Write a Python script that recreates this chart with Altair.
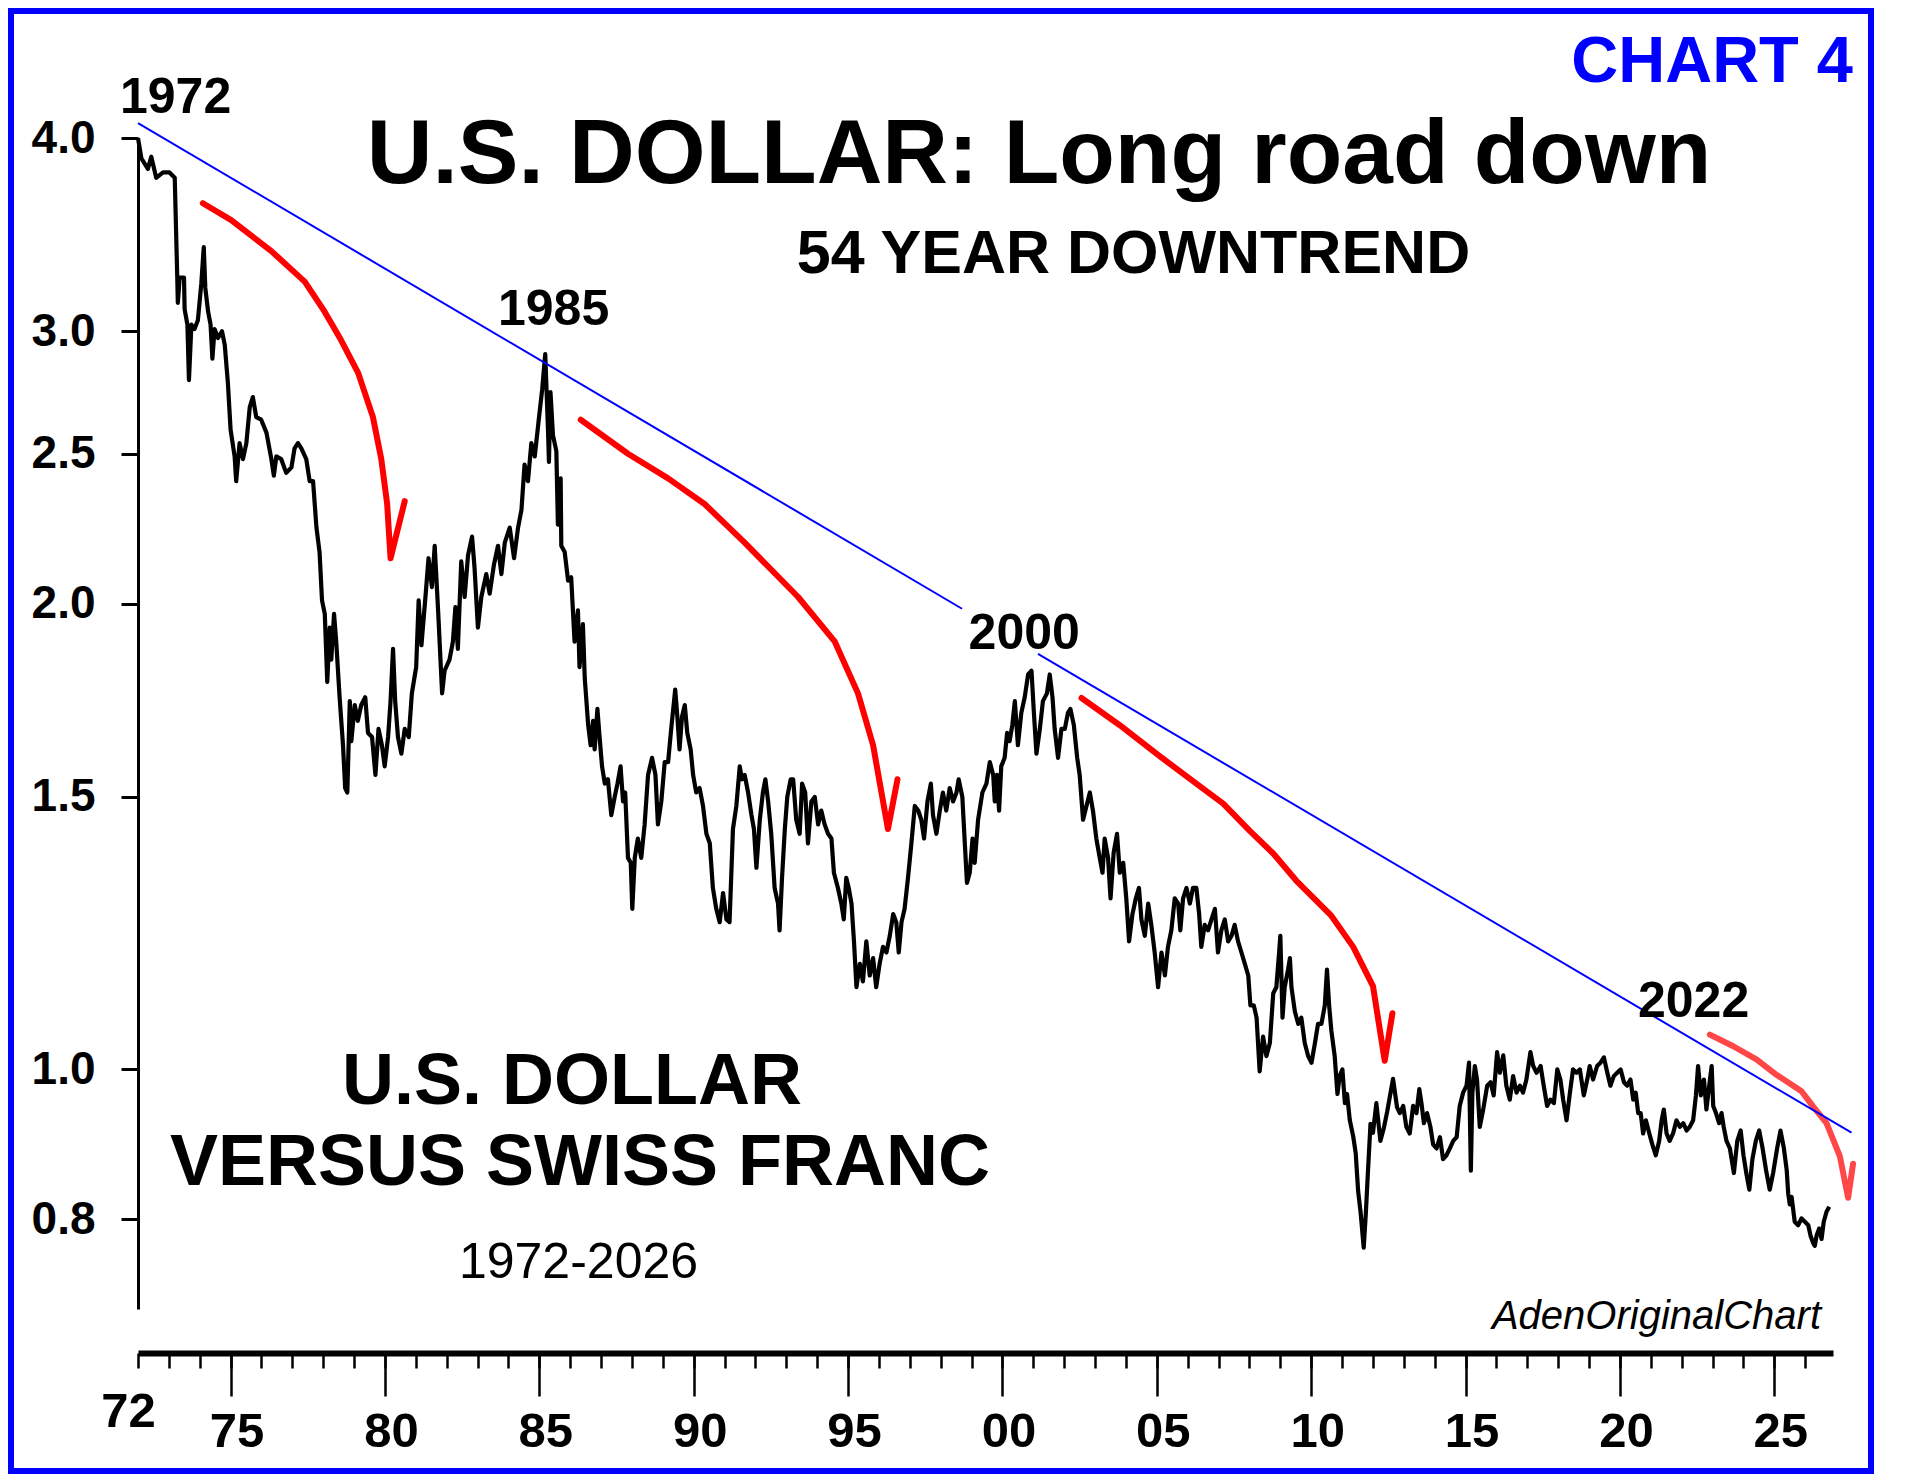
import altair as alt
import pandas as pd

# ---------------- data ----------------
usd_years = [
    1972.00, 1972.11, 1972.32, 1972.43, 1972.59, 1972.81, 1973.02, 1973.19, 1973.27, 1973.29,
    1973.35, 1973.49, 1973.51, 1973.60, 1973.65, 1973.73, 1973.83, 1973.94, 1974.05, 1974.13,
    1974.18, 1974.27, 1974.35, 1974.41, 1974.48, 1974.59, 1974.72, 1974.81, 1974.91, 1975.00,
    1975.13, 1975.18, 1975.29, 1975.40, 1975.51, 1975.62, 1975.72, 1975.83, 1975.99, 1976.16,
    1976.32, 1976.40, 1976.48, 1976.64, 1976.80, 1976.97, 1977.07, 1977.18, 1977.29, 1977.45,
    1977.56, 1977.67, 1977.78, 1977.88, 1977.96, 1978.05, 1978.13, 1978.21, 1978.26, 1978.35,
    1978.42, 1978.53, 1978.64, 1978.71, 1978.78, 1978.86, 1978.91, 1979.02, 1979.12, 1979.23,
    1979.36, 1979.45, 1979.58, 1979.69, 1979.79, 1979.90, 1979.99, 1980.10, 1980.18, 1980.26,
    1980.33, 1980.42, 1980.53, 1980.64, 1980.77, 1980.87, 1981.01, 1981.09, 1981.18, 1981.31,
    1981.41, 1981.52, 1981.61, 1981.72, 1981.85, 1981.93, 1982.09, 1982.20, 1982.28, 1982.36,
    1982.47, 1982.58, 1982.69, 1982.82, 1982.90, 1983.01, 1983.12, 1983.28, 1983.39, 1983.53,
    1983.66, 1983.77, 1983.88, 1984.04, 1984.18, 1984.31, 1984.42, 1984.52, 1984.63, 1984.74,
    1984.85, 1984.98, 1985.09, 1985.19,
    1985.28, 1985.31, 1985.36, 1985.44, 1985.55, 1985.60, 1985.69, 1985.71, 1985.82, 1985.93,
    1986.03, 1986.14, 1986.25, 1986.30, 1986.41, 1986.47, 1986.58, 1986.66, 1986.74, 1986.79,
    1986.88, 1986.95, 1987.03, 1987.12, 1987.22, 1987.33, 1987.44, 1987.53, 1987.63, 1987.71,
    1987.78, 1987.87, 1987.96, 1988.01, 1988.09, 1988.19, 1988.30, 1988.41, 1988.52, 1988.65,
    1988.76, 1988.84, 1988.95, 1989.06, 1989.17, 1989.27, 1989.40, 1989.47, 1989.54, 1989.62,
    1989.71, 1989.79, 1989.90, 1989.98, 1990.08, 1990.19, 1990.30, 1990.41, 1990.52, 1990.62,
    1990.73, 1990.84, 1990.95, 1991.06, 1991.16, 1991.27, 1991.38, 1991.49, 1991.56, 1991.65,
    1991.76, 1991.87, 1991.95, 1992.03, 1992.14, 1992.24, 1992.32, 1992.41, 1992.51, 1992.62,
    1992.73, 1992.78, 1992.86, 1992.95, 1993.03, 1993.14, 1993.22, 1993.32, 1993.43, 1993.51,
    1993.61, 1993.70, 1993.81, 1993.92, 1994.03, 1994.13, 1994.24, 1994.35, 1994.46, 1994.54,
    1994.67, 1994.78, 1994.86, 1994.94, 1995.02, 1995.11, 1995.19, 1995.27, 1995.38, 1995.48,
    1995.59, 1995.70, 1995.81, 1995.91, 1996.02, 1996.13, 1996.24, 1996.35, 1996.46, 1996.56,
    1996.64, 1996.73, 1996.83, 1996.94, 1997.05, 1997.16, 1997.27, 1997.37, 1997.46, 1997.57,
    1997.68, 1997.75, 1997.86, 1997.97, 1998.07, 1998.18, 1998.29, 1998.40, 1998.51, 1998.58,
    1998.70, 1998.78, 1998.85, 1998.94, 1999.03, 1999.10, 1999.21, 1999.35, 1999.48, 1999.59,
    1999.70, 1999.75, 1999.82, 1999.89, 1999.96, 2000.07, 2000.15, 2000.23, 2000.32, 2000.40,
    2000.50, 2000.61, 2000.72, 2000.83, 2000.94, 2001.01, 2001.10, 2001.21, 2001.31, 2001.44,
    2001.53, 2001.62, 2001.69, 2001.80, 2001.91, 2002.02, 2002.12, 2002.20, 2002.31, 2002.42,
    2002.50, 2002.61, 2002.72, 2002.83, 2002.93, 2003.04, 2003.15, 2003.24, 2003.31, 2003.42,
    2003.50, 2003.60, 2003.71, 2003.80, 2003.91, 2004.01, 2004.10, 2004.21, 2004.32, 2004.42,
    2004.50, 2004.61, 2004.72, 2004.82, 2004.93, 2005.04, 2005.15, 2005.26, 2005.36, 2005.47,
    2005.58, 2005.69, 2005.76, 2005.85, 2005.96, 2006.07, 2006.17, 2006.28, 2006.37, 2006.44,
    2006.55, 2006.66, 2006.77, 2006.88, 2006.98, 2007.09, 2007.20, 2007.31, 2007.42, 2007.52,
    2007.63, 2007.74, 2007.85, 2007.96, 2008.03, 2008.14, 2008.23, 2008.33, 2008.44, 2008.55,
    2008.66, 2008.77, 2008.87, 2008.96, 2009.00, 2009.07, 2009.14, 2009.25, 2009.31, 2009.36,
    2009.47, 2009.58, 2009.68, 2009.79, 2009.90, 2010.01, 2010.12, 2010.22, 2010.33, 2010.44,
    2010.51, 2010.58, 2010.65, 2010.76, 2010.85, 2010.92, 2011.01, 2011.09, 2011.16, 2011.25,
    2011.36, 2011.44, 2011.52, 2011.60, 2011.70, 2011.77, 2011.84, 2011.92, 2012.00, 2012.11,
    2012.24, 2012.35, 2012.46, 2012.65, 2012.78,
    2012.87, 2012.98, 2013.08, 2013.19, 2013.30, 2013.41, 2013.50, 2013.57, 2013.65, 2013.75,
    2013.86, 2013.95, 2014.06, 2014.17, 2014.27, 2014.38, 2014.49, 2014.60, 2014.71, 2014.81,
    2014.92, 2015.03, 2015.11, 2015.17, 2015.22, 2015.30, 2015.37, 2015.46, 2015.57, 2015.70,
    2015.81, 2015.91, 2016.02, 2016.11, 2016.22, 2016.32, 2016.43, 2016.54, 2016.65, 2016.76,
    2016.86, 2016.97, 2017.10, 2017.19, 2017.30, 2017.43, 2017.53, 2017.64, 2017.75, 2017.86,
    2017.97, 2018.07, 2018.16, 2018.27, 2018.38, 2018.48, 2018.59, 2018.70, 2018.83, 2018.94,
    2019.02, 2019.13, 2019.26, 2019.37, 2019.48, 2019.59, 2019.69, 2019.80, 2019.91, 2020.02,
    2020.13, 2020.23, 2020.34, 2020.43, 2020.51, 2020.59, 2020.67, 2020.75, 2020.84, 2020.95,
    2021.05, 2021.16, 2021.27, 2021.35, 2021.42, 2021.51, 2021.61, 2021.72, 2021.83, 2021.94,
    2022.05, 2022.16, 2022.26, 2022.37, 2022.46, 2022.53, 2022.62, 2022.72, 2022.80, 2022.89,
    2022.97, 2023.02, 2023.11, 2023.21, 2023.29, 2023.36, 2023.45, 2023.56, 2023.69, 2023.80,
    2023.91, 2024.00, 2024.10, 2024.19, 2024.29, 2024.40, 2024.51, 2024.62, 2024.73, 2024.85,
    2024.96, 2025.09, 2025.20, 2025.31, 2025.40, 2025.45, 2025.50, 2025.56, 2025.66, 2025.77,
    2025.88, 2025.99, 2026.10, 2026.17, 2026.26, 2026.31, 2026.37, 2026.45, 2026.53, 2026.60,
    2026.69, 2026.78,
]
usd_chf = [
    4.00, 3.88, 3.82, 3.89, 3.77, 3.80, 3.80, 3.77, 3.26, 3.13,
    3.25, 3.25, 3.10, 3.03, 2.79, 3.03, 3.01, 3.05, 3.22, 3.40,
    3.20, 3.09, 3.03, 2.88, 3.01, 2.97, 3.00, 2.94, 2.78, 2.59,
    2.49, 2.40, 2.54, 2.48, 2.54, 2.68, 2.72, 2.64, 2.63, 2.58,
    2.48, 2.42, 2.49, 2.48, 2.43, 2.45, 2.52, 2.54, 2.52, 2.48,
    2.40, 2.40, 2.24, 2.16, 2.01, 1.97, 1.78, 1.93, 1.84, 1.97,
    1.89, 1.74, 1.62, 1.52, 1.51, 1.73, 1.63, 1.72, 1.68, 1.72,
    1.74, 1.65, 1.64, 1.55, 1.66, 1.62, 1.57, 1.64, 1.73, 1.87,
    1.73, 1.64, 1.60, 1.66, 1.64, 1.75, 1.82, 2.01, 1.88, 2.02,
    2.14, 2.05, 2.18, 1.98, 1.75, 1.81, 1.84, 1.89, 1.99, 1.87,
    2.13, 2.02, 2.15, 2.21, 2.11, 1.93, 2.02, 2.09, 2.03, 2.12,
    2.18, 2.09, 2.19, 2.24, 2.14, 2.24, 2.30, 2.46, 2.40, 2.54,
    2.49, 2.63, 2.75, 2.90,
    2.59, 2.47, 2.74, 2.57, 2.51, 2.25, 2.41, 2.18, 2.16, 2.07,
    2.08, 1.89, 1.98, 1.82, 1.94, 1.79, 1.67, 1.62, 1.68, 1.61,
    1.71, 1.64, 1.57, 1.53, 1.54, 1.46, 1.50, 1.53, 1.57, 1.49,
    1.51, 1.37, 1.36, 1.27, 1.37, 1.41, 1.37, 1.44, 1.55, 1.59,
    1.55, 1.44, 1.49, 1.58, 1.58, 1.66, 1.76, 1.69, 1.61, 1.69,
    1.72, 1.65, 1.61, 1.55, 1.51, 1.52, 1.48, 1.42, 1.40, 1.31,
    1.27, 1.245, 1.30, 1.25, 1.245, 1.43, 1.48, 1.57, 1.54, 1.55,
    1.51, 1.46, 1.43, 1.35, 1.45, 1.51, 1.54, 1.49, 1.42, 1.31,
    1.28, 1.23, 1.33, 1.43, 1.50, 1.54, 1.54, 1.45, 1.42, 1.53,
    1.51, 1.40, 1.49, 1.50, 1.44, 1.47, 1.44, 1.42, 1.41, 1.34,
    1.31, 1.28, 1.25, 1.33, 1.31, 1.28, 1.21, 1.13, 1.17, 1.14,
    1.21, 1.15, 1.18, 1.13, 1.17, 1.20, 1.19, 1.22, 1.26, 1.245,
    1.19, 1.245, 1.27, 1.33, 1.40, 1.48, 1.47, 1.45, 1.41, 1.49,
    1.53, 1.46, 1.42, 1.47, 1.51, 1.47, 1.52, 1.49, 1.51, 1.54,
    1.50, 1.40, 1.32, 1.34, 1.41, 1.36, 1.45, 1.51, 1.53, 1.58,
    1.55, 1.49, 1.55, 1.47, 1.57, 1.59, 1.65, 1.63, 1.67, 1.73,
    1.62, 1.70, 1.74, 1.80, 1.81, 1.71, 1.60, 1.66, 1.73, 1.75,
    1.80, 1.74, 1.66, 1.59, 1.66, 1.66, 1.70, 1.71, 1.67, 1.59,
    1.55, 1.45, 1.48, 1.51, 1.47, 1.41, 1.37, 1.34, 1.41, 1.37,
    1.29, 1.38, 1.42, 1.34, 1.36, 1.29, 1.21, 1.26, 1.29, 1.31,
    1.25, 1.22, 1.28, 1.24, 1.19, 1.13, 1.19, 1.15, 1.20, 1.23,
    1.29, 1.28, 1.23, 1.29, 1.31, 1.28, 1.31, 1.31, 1.26, 1.20,
    1.24, 1.23, 1.25, 1.27, 1.19, 1.23, 1.25, 1.21, 1.22, 1.24,
    1.21, 1.19, 1.17, 1.15, 1.10, 1.10, 1.08, 0.997, 1.05, 1.02,
    1.04, 1.12, 1.13, 1.19, 1.22, 1.08, 1.13, 1.16, 1.18, 1.13,
    1.09, 1.07, 1.08, 1.04, 1.02, 1.01, 1.04, 1.07, 1.07, 1.10,
    1.16, 1.10, 1.06, 1.02, 0.964, 0.99, 1.00, 0.951, 0.964, 0.927,
    0.905, 0.883, 0.834, 0.808, 0.767, 0.808, 0.861, 0.922, 0.910, 0.951,
    0.899, 0.916, 0.939, 0.986, 0.945,
    0.937, 0.947, 0.918, 0.909, 0.947, 0.937, 0.971, 0.951, 0.923, 0.937,
    0.918, 0.894, 0.889, 0.904, 0.875, 0.880, 0.889, 0.899, 0.904, 0.947,
    0.966, 0.976, 1.010, 0.860, 0.966, 1.005, 0.985, 0.918, 0.942, 0.976,
    0.981, 0.962, 1.026, 0.995, 1.021, 0.976, 0.956, 0.990, 0.966, 0.976,
    0.966, 0.985, 1.026, 1.005, 0.995, 1.005, 0.976, 0.947, 0.956, 0.951,
    1.000, 0.985, 0.956, 0.927, 0.966, 1.000, 0.995, 1.000, 0.962, 0.985,
    1.005, 0.985, 1.005, 1.010, 1.018, 0.995, 0.976, 0.990, 0.995, 1.000,
    0.981, 0.976, 0.985, 0.956, 0.966, 0.937, 0.937, 0.909, 0.927, 0.909,
    0.894, 0.880, 0.899, 0.927, 0.942, 0.909, 0.899, 0.909, 0.927, 0.918,
    0.923, 0.913, 0.918, 0.927, 0.962, 1.005, 0.962, 0.985, 0.942, 0.976,
    1.005, 0.947, 0.937, 0.923, 0.937, 0.918, 0.899, 0.889, 0.857, 0.899,
    0.913, 0.880, 0.855, 0.836, 0.875, 0.899, 0.913, 0.889, 0.861, 0.836,
    0.857, 0.889, 0.913, 0.889, 0.861, 0.831, 0.818, 0.827, 0.797, 0.793,
    0.801, 0.797, 0.793, 0.781, 0.772, 0.769, 0.781, 0.789, 0.777, 0.797,
    0.809, 0.815,
]

# blue downtrend line (two pieces, broken behind the "2000" label)
trend_years = [1972.0, 1998.69, 2001.15, 2027.5]
trend_values = [4.09, 1.985, 1.856, 0.910]
trend_piece = ["a", "a", "b", "b"]

# red "acceleration" arrows
arrow1_years = [1974.10, 1975.02, 1976.32, 1977.40, 1978.04, 1978.58, 1979.13, 1979.61, 1979.88, 1980.07, 1980.18, 1980.64]
arrow1_values = [3.63, 3.54, 3.38, 3.23, 3.09, 2.96, 2.82, 2.64, 2.48, 2.32, 2.14, 2.33]
arrow2_years = [1986.34, 1987.87, 1989.17, 1990.35, 1991.65, 1993.38, 1994.57, 1995.32, 1995.81, 1996.29, 1996.60]
arrow2_values = [2.63, 2.50, 2.41, 2.32, 2.19, 2.02, 1.89, 1.75, 1.62, 1.43, 1.54]
arrow3_years = [2002.56, 2003.80, 2005.09, 2006.17, 2007.15, 2008.01, 2008.77, 2009.52, 2010.65, 2011.36, 2012.00, 2012.38, 2012.63]
arrow3_values = [1.738, 1.669, 1.594, 1.536, 1.485, 1.426, 1.379, 1.324, 1.257, 1.200, 1.132, 1.013, 1.087]
arrow4_years = [2022.91, 2023.67, 2024.42, 2025.07, 2025.88, 2026.26, 2026.69, 2027.12, 2027.39, 2027.55]
arrow4_values = [1.053, 1.035, 1.015, 0.992, 0.968, 0.946, 0.923, 0.879, 0.826, 0.869]

# axis ticks / labels
y_ticks = [0.8, 1.0, 1.5, 2.0, 2.5, 3.0, 4.0]
x_major_ticks = [1975, 1980, 1985, 1990, 1995, 2000, 2005, 2010, 2015, 2020, 2025]
x_minor_ticks = list(range(1972, 2027))

# texts
title_text = "U.S. DOLLAR: Long road down"
subtitle_text = "54 YEAR DOWNTREND"
chart_no_text = "CHART 4"
series_line1 = "U.S. DOLLAR"
series_line2 = "VERSUS SWISS FRANC"
period_text = "1972-2026"
credit_text = "AdenOriginalChart"
year_labels = ["1972", "1985", "2000", "2022"]
first_tick_label = "72"

# ---------------- chart ----------------
FONT = "Liberation Sans"
W, H = 1695, 1171
x_scale = alt.Scale(domain=[1972, 2026.9], nice=False, zero=False)
y_scale = alt.Scale(type="log", domain=[0.7, 4.0], nice=False)

major_axis = alt.Axis(
    values=x_major_ticks, orient="bottom", offset=44, domain=False,
    tickSize=43, tickWidth=2.5, tickColor="black",
    labelFont=FONT, labelFontSize=49, labelFontWeight="bold", labelColor="black",
    labelPadding=11, labelOffset=6, labelFlush=False, labelOverlap=False,
    labelExpr="(datum.value % 100) < 10 ? '0' + (datum.value % 100) : '' + (datum.value % 100)",
    grid=False, title=None,
)
minor_axis = alt.Axis(
    values=x_minor_ticks, orient="bottom", offset=44, domain=True, domainWidth=6,
    domainColor="black", tickSize=15, tickWidth=2.5, tickColor="black",
    labels=False, grid=False, title=None,
)
y_axis = alt.Axis(
    values=y_ticks, format=".1f", orient="left", domainWidth=3, domainColor="black",
    tickSize=17, tickWidth=3, tickColor="black",
    labelFont=FONT, labelFontSize=46, labelFontWeight="bold", labelColor="black",
    labelPadding=26, labelFlush=False, labelOverlap=False, grid=False, title=None,
)

usd_df = pd.DataFrame({"year": usd_years, "rate": usd_chf})
trend_df = pd.DataFrame({"year": trend_years, "rate": trend_values, "piece": trend_piece})

arrow_rows = []
for name, ys, vs in [("a1", arrow1_years, arrow1_values),
                     ("a2", arrow2_years, arrow2_values),
                     ("a3", arrow3_years, arrow3_values)]:
    for i, (yy, vv) in enumerate(zip(ys, vs)):
        arrow_rows.append({"arrow": name, "idx": i, "year": yy, "rate": vv})
arrows_df = pd.DataFrame(arrow_rows)
arrow4_df = pd.DataFrame({"arrow": "a4", "idx": list(range(len(arrow4_years))),
                          "year": arrow4_years, "rate": arrow4_values})

one = pd.DataFrame({"k": [0]})

border = alt.Chart(one).mark_rect(filled=False, stroke="#0000ff", strokeWidth=6).encode(
    x=alt.value(-127), x2=alt.value(1733), y=alt.value(-127), y2=alt.value(1333)
)

black = alt.Chart(usd_df).mark_line(color="black", strokeWidth=4.2, strokeJoin="round").encode(
    x=alt.X("year:Q", scale=x_scale, axis=major_axis),
    y=alt.Y("rate:Q", scale=y_scale, axis=y_axis),
)

red = alt.Chart(arrows_df).mark_line(color="#ff0000", strokeWidth=6, strokeCap="round", strokeJoin="round").encode(
    x=alt.X("year:Q", scale=x_scale, axis=None),
    y=alt.Y("rate:Q", scale=y_scale, axis=None),
    detail="arrow:N",
    order="idx:Q",
)
red4 = alt.Chart(arrow4_df).mark_line(color="#ff0000", opacity=0.72, strokeWidth=6, strokeCap="round", strokeJoin="round").encode(
    x=alt.X("year:Q", scale=x_scale, axis=None),
    y=alt.Y("rate:Q", scale=y_scale, axis=None),
    detail="arrow:N",
    order="idx:Q",
)

trend = alt.Chart(trend_df).mark_line(color="#0000ff", strokeWidth=2).encode(
    x=alt.X("year:Q", scale=x_scale, axis=minor_axis),
    y=alt.Y("rate:Q", scale=y_scale, axis=None),
    detail="piece:N",
)


def label(text, x, y, size, align="left", weight="bold", color="black", style="normal"):
    return alt.Chart(pd.DataFrame({"t": [text]})).mark_text(
        font=FONT, fontSize=size, fontWeight=weight, fontStyle=style, color=color,
        align=align, baseline="alphabetic",
    ).encode(x=alt.value(x), y=alt.value(y), text="t:N")


texts = [
    label(chart_no_text, 1715, -56, 65, align="right", color="#0000ff"),
    label(title_text, 901, 45, 91, align="center"),
    label(subtitle_text, 995.5, 135, 61, align="center"),
    label(year_labels[0], -18, -25, 50),
    label(year_labels[1], 360, 186.5, 50),
    label(year_labels[2], 830.6, 511, 50),
    label(year_labels[3], 1500, 879, 50),
    label(series_line1, 434, 965.5, 72, align="center"),
    label(series_line2, 442, 1047, 72, align="center"),
    label(period_text, 440.5, 1140, 50, align="center", weight="normal"),
    label(credit_text, 1683, 1191, 40, align="right", weight="normal", style="italic"),
    label(first_tick_label, -9.5, 1289, 49, align="center"),
]

chart = alt.layer(border, black, red, red4, trend, *texts).resolve_axis(
    x="independent", y="independent"
).properties(
    width=W, height=H,
    padding={"left": 130, "top": 130, "right": 70, "bottom": 165},
    autosize=alt.AutoSizeParams(type="none"),
    background="white",
).configure_view(stroke=None)

chart.save("out.html", embed_options={"renderer": "svg", "actions": False})
